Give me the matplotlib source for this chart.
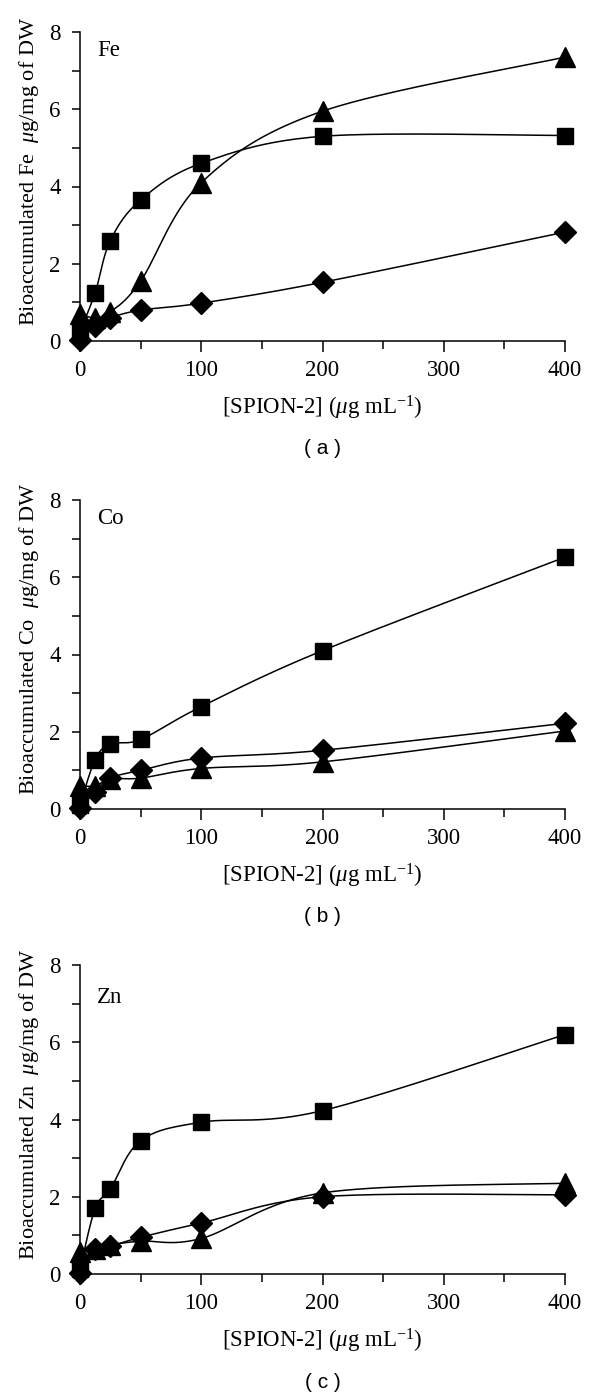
import numpy as np
import matplotlib
matplotlib.use("Agg")
import matplotlib.pyplot as plt
from matplotlib.ticker import MultipleLocator

plt.rcParams['font.family'] = ['Liberation Serif', 'DejaVu Serif']
plt.rcParams['mathtext.fontset'] = 'custom'
plt.rcParams['mathtext.rm'] = 'Liberation Serif'
plt.rcParams['mathtext.it'] = 'Liberation Serif:italic'

# ---------------- data ----------------
conc = [0, 12.5, 25, 50, 100, 200, 400]

fe_square = [0.25, 1.25, 2.6, 3.65, 4.6, 5.3, 5.32]
fe_triangle = [0.7, 0.6, 0.75, 1.55, 4.1, 5.95, 7.35]
fe_diamond = [0.02, 0.4, 0.6, 0.8, 0.98, 1.52, 2.82]

co_square = [0.1, 1.28, 1.68, 1.8, 2.65, 4.1, 6.52]
co_triangle = [0.6, 0.6, 0.78, 0.8, 1.05, 1.22, 2.02]
co_diamond = [0.02, 0.45, 0.8, 1.0, 1.32, 1.52, 2.22]

zn_square = [0.12, 1.7, 2.2, 3.45, 3.93, 4.23, 6.2]
zn_triangle = [0.58, 0.65, 0.75, 0.85, 0.92, 2.1, 2.35]
zn_diamond = [0.02, 0.65, 0.72, 0.95, 1.32, 2.0, 2.05]

panels = [
    ("Fe", "(a)", fe_square, fe_triangle, fe_diamond),
    ("Co", "(b)", co_square, co_triangle, co_diamond),
    ("Zn", "(c)", zn_square, zn_triangle, zn_diamond),
]
x_ticks = [0, 100, 200, 300, 400]
y_ticks = [0, 2, 4, 6, 8]

# ---------------- helpers ----------------
W, H = 600, 1398
fig = plt.figure(figsize=(W / 100, H / 100), dpi=100)

ax_left, ax_right = 80, 565
bottoms = [341, 809, 1274]
ax_h = 309
sx = (ax_right - ax_left) / 400.0
sy = ax_h / 8.0


def smooth(xs, ys, n=40):
    """Catmull-Rom style smoothed path through the points (in pixel-scaled space)."""
    P = np.column_stack([np.asarray(xs, float) * sx, np.asarray(ys, float) * sy])
    out = [P[0]]
    m = len(P)
    for i in range(m - 1):
        p0 = P[i - 1] if i > 0 else P[i]
        p1 = P[i]
        p2 = P[i + 1]
        p3 = P[i + 2] if i + 2 < m else P[i + 1]
        c1 = p1 + (p2 - p0) / 6.0
        c2 = p2 - (p3 - p1) / 6.0
        t = np.linspace(0, 1, n)[1:, None]
        seg = ((1 - t) ** 3) * p1 + 3 * ((1 - t) ** 2) * t * c1 + 3 * (1 - t) * t ** 2 * c2 + t ** 3 * p2
        out.extend(seg)
    out = np.array(out)
    return out[:, 0] / sx, out[:, 1] / sy


label_y = [0.94, 0.94, 0.895]

for k, (elem, letter, sq, tr, di) in enumerate(panels):
    b = bottoms[k]
    ax = fig.add_axes([ax_left / W, 1 - b / H, (ax_right - ax_left) / W, ax_h / H])
    for ys, mk, ms in [(di, 'D', 11), (tr, '^', 14), (sq, 's', 11.5)]:
        cx, cy = smooth(conc, ys)
        ax.plot(cx, cy, color='black', lw=1.1, clip_on=False, zorder=2)
        ax.plot(conc, ys, linestyle='none', marker=mk, ms=ms, color='black',
                clip_on=False, zorder=3)
    ax.set_xlim(0, 400)
    ax.set_ylim(0, 8)
    ax.spines['top'].set_visible(False)
    ax.spines['right'].set_visible(False)
    for s in ['left', 'bottom']:
        ax.spines[s].set_linewidth(1.1)
    ax.set_xticks(x_ticks)
    ax.xaxis.set_minor_locator(MultipleLocator(50))
    ax.set_yticks(y_ticks)
    ax.yaxis.set_minor_locator(MultipleLocator(1))
    ax.tick_params(axis='both', which='major', direction='out', length=6, width=1.1,
                   labelsize=16.5, pad=8)
    ax.tick_params(axis='both', which='minor', direction='out', length=5.5, width=1.1)
    ax.tick_params(axis='x', which='major', length=8, pad=6)
    ax.set_xlabel(r'[SPION-2] ($\mu$g mL$^{-1}$)', fontsize=16.5, labelpad=9)
    ylab = 'Bioaccumulated ' + elem + r'  $\mu$g/mg of DW'
    ax.set_ylabel(ylab, fontsize=16)
    ax.yaxis.set_label_coords(-0.08, 0.55)
    ax.text(0.035, label_y[k], elem, transform=ax.transAxes,
            fontsize=16.5, ha='left', va='center')
    fig.text((ax_left + ax_right) / 2 / W, 1 - (b + 108) / H, '( ' + letter[1] + ' )',
             family='Liberation Sans', fontsize=15, ha='center', va='center')

fig.savefig('out.png', dpi=100, facecolor='white')
